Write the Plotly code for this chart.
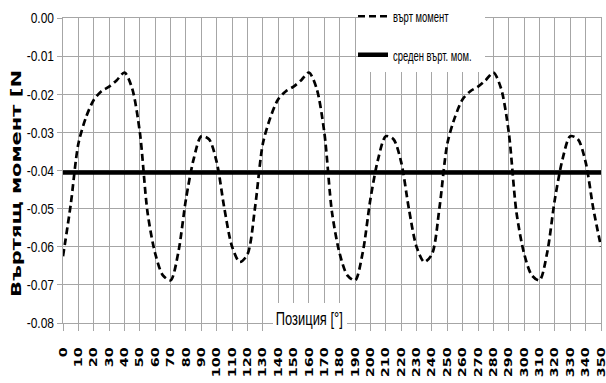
import plotly.graph_objects as go

# Rotor position, degrees (5-degree steps)
position_deg = list(range(0, 355, 5))

# Torque over position [Nm]
torque = [
    -0.0625, -0.0490, -0.0330, -0.0260, -0.0215, -0.0192, -0.0180, -0.0163,
    -0.0143, -0.0185, -0.0300, -0.0510, -0.0618, -0.0675, -0.0688, -0.0615,
    -0.0475, -0.0370, -0.0310, -0.0318, -0.0378, -0.0500, -0.0600, -0.0640,
    -0.0620, -0.0495, -0.0330, -0.0260, -0.0213, -0.0192, -0.0180, -0.0163,
    -0.0143, -0.0185, -0.0300, -0.0510, -0.0618, -0.0675, -0.0688, -0.0615,
    -0.0475, -0.0370, -0.0310, -0.0318, -0.0378, -0.0500, -0.0600, -0.0640,
    -0.0620, -0.0495, -0.0330, -0.0260, -0.0213, -0.0192, -0.0180, -0.0163,
    -0.0143, -0.0185, -0.0300, -0.0510, -0.0618, -0.0675, -0.0688, -0.0615,
    -0.0475, -0.0370, -0.0310, -0.0318, -0.0378, -0.0500, -0.0600,
]

# Mean torque [Nm]
mean_torque = -0.0405
mean_x = [0, 350]

x_ticks = list(range(0, 360, 10))
x_tick_labels = [str(v) for v in x_ticks]
y_ticks = [0.0, -0.01, -0.02, -0.03, -0.04, -0.05, -0.06, -0.07, -0.08]
y_tick_labels = ["0.00", "-0.01", "-0.02", "-0.03", "-0.04", "-0.05", "-0.06", "-0.07", "-0.08"]

series_names = ["върт момент", "среден върт. мом."]
x_title = "Позиция [°]"
y_title = "Въртящ момент [N"

SANS = "Liberation Sans, Arial, sans-serif"
WIDE_BOLD = "DejaVu Sans, Verdana, sans-serif"
GRID = "#a6a6a6"

fig = go.Figure()
fig.add_trace(go.Scatter(
    x=position_deg, y=torque, mode="lines", name=series_names[0],
    line=dict(color="black", width=2.7, dash="7px,4px", shape="spline", smoothing=0.8),
    legendgroup="a",
))
fig.add_trace(go.Scatter(
    x=mean_x, y=[mean_torque, mean_torque], mode="lines", name=series_names[1],
    line=dict(color="black", width=4.5),
    legendgroup="b",
))

fig.update_layout(
    width=606, height=383,
    margin=dict(l=63, r=5, t=18, b=60, autoexpand=False),
    paper_bgcolor="white", plot_bgcolor="white",
    showlegend=True,
    legend=dict(
        x=(353 - 63) / 538, xref="paper", y=1.014, yref="container",
        xanchor="left", yanchor="top",
        bgcolor="rgba(0,0,0,0)", borderwidth=0,
        font=dict(family=SANS, size=15, color="black"),
        tracegroupgap=16, traceorder="grouped",
        itemwidth=30,
    ),
    xaxis=dict(
        range=[0, 350], tickmode="array", tickvals=x_ticks, ticktext=x_tick_labels,
        tickangle=-90, showgrid=True, gridcolor=GRID, gridwidth=1,
        showline=True, linecolor=GRID, linewidth=1, mirror=True,
        ticks="outside", ticklen=7, tickcolor=GRID,
        tickfont=dict(family=WIDE_BOLD, size=11, color="black", weight="bold"),
        ticklabelstandoff=12, ticklabeloverflow="allow", zeroline=False,
        automargin=False,
    ),
    yaxis=dict(
        range=[-0.08, 0], tickmode="array", tickvals=y_ticks, ticktext=y_tick_labels,
        showgrid=True, gridcolor=GRID, gridwidth=1,
        showline=True, linecolor=GRID, linewidth=1, mirror=True,
        ticks="outside", ticklen=5, tickcolor=GRID,
        tickfont=dict(family=SANS, size=15, color="black"),
        zeroline=False, automargin=False,
    ),
    shapes=[
        # white panel behind the legend
        dict(type="rect", xref="paper", yref="paper", layer="above",
             x0=(358 - 63) / 538, x1=(485 - 63) / 538,
             y0=(323 - 72) / 305, y1=(323 - 0) / 305,
             fillcolor="white", line=dict(width=0)),
        # white panel behind the x-axis title
        dict(type="rect", xref="paper", yref="paper", layer="above",
             x0=(273 - 63) / 538, x1=(347 - 63) / 538,
             y0=(323 - 331) / 305, y1=(323 - 303) / 305,
             fillcolor="white", line=dict(width=0)),
    ],
)

# Axis titles
fig.add_annotation(
    text=x_title, x=160.5, y=-0.08, xref="x", yref="y",
    yanchor="middle", yshift=5, showarrow=False,
    font=dict(family=SANS, size=19, color="black"),
)
fig.add_annotation(
    text=y_title, x=0, y=0.455, xref="paper", yref="paper",
    xanchor="center", yanchor="middle", xshift=-47,
    textangle=-90, showarrow=False,
    font=dict(family=WIDE_BOLD, size=14, color="black", weight="bold"),
)

# Horizontal condensing / stretching of lettering around each text anchor
post_script = """
var gd = document.getElementById('{plot_id}');
function squeeze(el, sx) {
  if (!el) return;
  var t = el.getAttribute('transform') || '';
  var tag = 'scale(' + sx + ',1)';
  if (t.indexOf(tag) !== -1) return;
  var x = parseFloat(el.getAttribute('x')) || 0;
  var y = parseFloat(el.getAttribute('y')) || 0;
  el.setAttribute('transform', t + ' translate(' + x + ',' + y + ') ' + tag +
                  ' translate(' + (-x) + ',' + (-y) + ')');
}
function restyleText() {
  gd.querySelectorAll('.ytick text').forEach(function (t) { squeeze(t, 0.8); });
  gd.querySelectorAll('.xtick text').forEach(function (t) { squeeze(t, 1.3); });
  gd.querySelectorAll('.legendtext').forEach(function (t) { squeeze(t, 0.63); });
  var ann = gd.querySelectorAll('.annotation-text');
  if (ann.length > 1) {
    squeeze(ann[0], 0.68);
    squeeze(ann[1], 1.5);
  }
}
restyleText();
gd.on('plotly_afterplot', restyleText);
"""

fig.write_html("out.html", post_script=post_script)
